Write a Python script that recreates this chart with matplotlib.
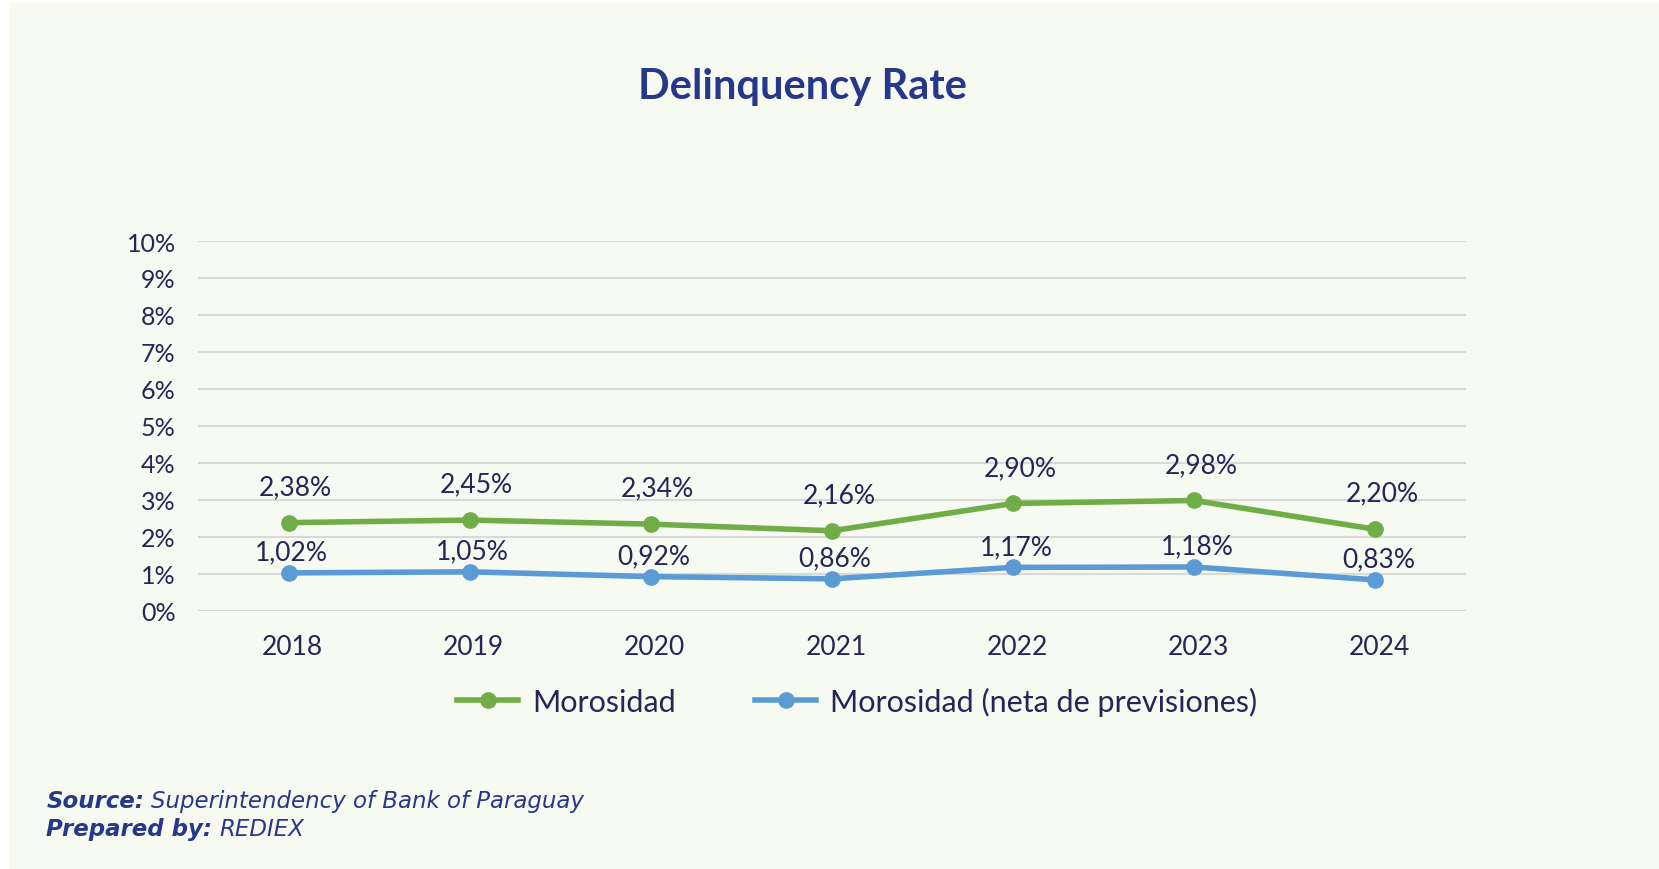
import numpy as np
import matplotlib
matplotlib.use('Agg')
import matplotlib.pyplot as plt
from matplotlib.patches import Rectangle
import matplotlib.transforms as mtransforms

matplotlib.rcParams.update({'font.family': 'Lato', 'font.size': 18})

# data
years = ['2018', '2019', '2020', '2021', '2022', '2023', '2024']
morosidad = [2.38, 2.45, 2.34, 2.16, 2.90, 2.98, 2.20]
morosidad_neta = [1.02, 1.05, 0.92, 0.86, 1.17, 1.18, 0.83]
series_names = ['Morosidad', 'Morosidad (neta de previsiones)']
y_ticks = list(range(0, 11))

green = '#70AD47'
blue = '#5B9BD5'
navy = '#262556'
title_col = '#27378A'
bg = '#F7FAF1'

fig = plt.figure(figsize=(16.59, 8.70), dpi=100)
fig.patch.set_facecolor('white')
# light panel behind everything (white strip left / top)
fig.patches.append(Rectangle((9 / 1659, 0), 1 - 9 / 1659, 1 - 4 / 870,
                             transform=fig.transFigure, facecolor=bg,
                             edgecolor='none', zorder=-10))

ax = fig.add_axes([0.1193, 0.2970, 0.7644, 0.4248])
ax.set_facecolor('none')

x = np.arange(len(years))
ax.plot(x, morosidad, color=green, lw=4, marker='o', ms=11, label=series_names[0], zorder=3)
ax.plot(x, morosidad_neta, color=blue, lw=4, marker='o', ms=11, label=series_names[1], zorder=3)

def fmt(v):
    return ('%.2f%%' % v).replace('.', ',')

for xi, v in zip(x, morosidad):
    ax.annotate(fmt(v), (xi, v), xytext=(5, 26), textcoords='offset points',
                ha='center', va='center', fontsize=19, color=navy)
for xi, v in zip(x, morosidad_neta):
    ax.annotate(fmt(v), (xi, v), xytext=(2, 15), textcoords='offset points',
                ha='center', va='center', fontsize=19, color=navy)

ax.set_xlim(-0.5, len(years) - 0.5)
ax.set_ylim(0, 10)
ax.set_yticks(y_ticks)
ax.set_yticklabels(['%d%%' % t for t in y_ticks])
ax.set_xticks(x)
ax.set_xticklabels(years)
ax.tick_params(axis='both', length=0, labelsize=18, labelcolor=navy)
ax.tick_params(axis='y', pad=16)
ax.tick_params(axis='x', pad=17, labelsize=19)
# year labels sit a bit right of the points in the original
shift = mtransforms.ScaledTranslation(4 / 100, 0, fig.dpi_scale_trans)
for lbl in ax.get_xticklabels():
    lbl.set_transform(lbl.get_transform() + shift)
ax.yaxis.grid(True, color='#D9D9D9', lw=1.5)
ax.xaxis.grid(False)
ax.set_axisbelow(True)
for s in ax.spines.values():
    s.set_visible(False)

leg = fig.legend(loc='center', bbox_to_anchor=(0.5166, 0.193), ncol=2, frameon=False,
                 fontsize=22, handlelength=2.0, columnspacing=2.6, handletextpad=0.45,
                 labelcolor=navy)

fig.text(0.4835, 0.900, 'Delinquency Rate', ha='center', va='center',
         fontsize=30, fontweight='bold', color=title_col)

# footer, label + text chained so they sit right after each other
foot_font = 'DejaVu Sans'
foot_size = 16.5
t1 = fig.text(0.028, 0.079, 'Source:', fontsize=foot_size, fontweight='bold', style='italic',
              color=title_col, va='center', family=foot_font)
fig.add_artist(plt.Annotation('Superintendency of Bank of Paraguay', xy=(1, 0.5), xycoords=t1,
                              xytext=(5, 0), textcoords='offset points', va='center',
                              fontsize=foot_size, style='italic', color=title_col, family=foot_font))
t2 = fig.text(0.028, 0.046, 'Prepared by:', fontsize=foot_size, fontweight='bold', style='italic',
              color=title_col, va='center', family=foot_font)
fig.add_artist(plt.Annotation('REDIEX', xy=(1, 0.5), xycoords=t2,
                              xytext=(5, 0), textcoords='offset points', va='center',
                              fontsize=foot_size, style='italic', color=title_col, family=foot_font))

plt.savefig('out.png', dpi=100, facecolor=fig.get_facecolor())
